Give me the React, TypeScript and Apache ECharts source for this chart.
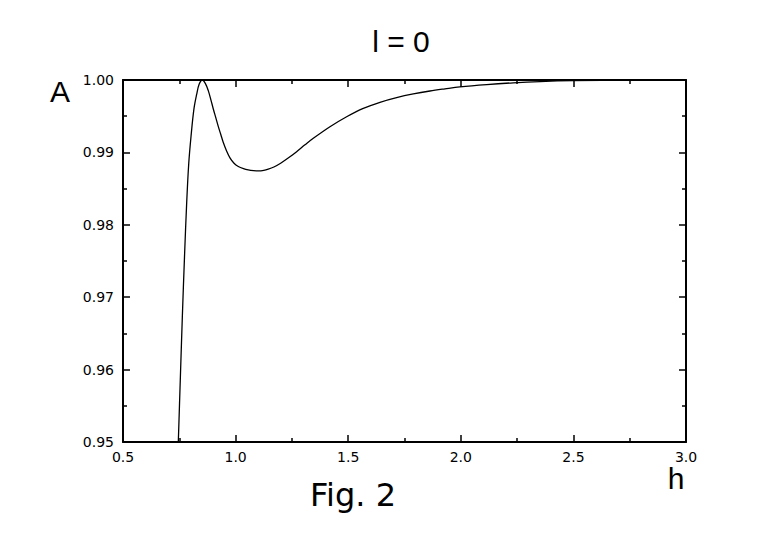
import React, { useEffect, useRef } from "react";
import * as echarts from "echarts";

const hValues: number[] = [
  0.7456, 0.7545, 0.7635, 0.773, 0.783, 0.792, 0.802, 0.815, 0.827, 0.838, 0.852,
  0.866, 0.879, 0.89, 0.901, 0.912, 0.923, 0.934, 0.945, 0.96, 0.975, 0.993,
  1.012, 1.035, 1.056, 1.08, 1.101, 1.125, 1.145, 1.17, 1.2, 1.235,
  1.271, 1.308, 1.345, 1.419, 1.493, 1.567, 1.641, 1.715, 1.789, 1.863, 1.93, 1.996, 2.115,
  2.233, 2.352, 2.5, 2.75, 3.0,
];
const aValues: number[] = [
  0.95, 0.9587, 0.9673, 0.9755, 0.9832, 0.9885, 0.9922, 0.996, 0.998, 0.9994, 1.0,
  0.9995, 0.9985, 0.9973, 0.996, 0.9948, 0.9936, 0.9925, 0.9914, 0.9902, 0.98925, 0.9885,
  0.98805, 0.98775, 0.98758, 0.98748, 0.98745, 0.98752, 0.98768, 0.98798, 0.9885, 0.98925,
  0.9901, 0.99105, 0.99195, 0.99355, 0.99493, 0.99609, 0.99692, 0.99756, 0.99807, 0.99848, 0.99878, 0.99905, 0.99937,
  0.99961, 0.99978, 0.9999, 0.99998, 1.0,
];
const xTickLabels = { min: 0.5, max: 3.0, interval: 0.5 };
const yTickLabels = { min: 0.95, max: 1.0, interval: 0.01 };
const titleText = "l = 0";
const yName = "A";
const xName = "h";
const captionText = "Fig. 2";

export default function App() {
  const ref = useRef<HTMLDivElement>(null);
  useEffect(() => {
    if (!ref.current) return;
    const chart = echarts.init(ref.current, undefined, { renderer: "svg" });
    const data = hValues.map((h, i) => [h, aValues[i]]);
    const axisLine = { show: true, onZero: false, lineStyle: { color: "#000", width: 2 } };
    const axisTick = { show: true, inside: true, length: 7, lineStyle: { color: "#000", width: 1.5 } };
    const minorTick = { show: true, splitNumber: 2, length: 4, lineStyle: { color: "#000", width: 1.5 } };
    const labelFont = { color: "#000", fontSize: 14, fontFamily: "DejaVu Sans" };
    chart.setOption({
      animation: false,
      backgroundColor: "#fff",
      grid: { left: 123, top: 80, width: 563, height: 362, containLabel: false },
      xAxis: [
        {
          type: "value",
          position: "bottom",
          min: xTickLabels.min,
          max: xTickLabels.max,
          interval: xTickLabels.interval,
          axisLine,
          axisTick,
          minorTick,
          splitLine: { show: false },
          minorSplitLine: { show: false },
          axisLabel: { ...labelFont, margin: 8, formatter: (v: number) => v.toFixed(1) },
        },
        {
          type: "value",
          position: "top",
          min: xTickLabels.min,
          max: xTickLabels.max,
          interval: xTickLabels.interval,
          axisLine,
          axisTick,
          minorTick,
          splitLine: { show: false },
          axisLabel: { show: false },
        },
      ],
      yAxis: [
        {
          type: "value",
          position: "left",
          min: yTickLabels.min,
          max: yTickLabels.max,
          interval: yTickLabels.interval,
          axisLine,
          axisTick,
          minorTick,
          splitLine: { show: false },
          minorSplitLine: { show: false },
          axisLabel: { ...labelFont, margin: 9, formatter: (v: number) => v.toFixed(2) },
        },
        {
          type: "value",
          position: "right",
          min: yTickLabels.min,
          max: yTickLabels.max,
          interval: yTickLabels.interval,
          axisLine,
          axisTick,
          minorTick,
          splitLine: { show: false },
          axisLabel: { show: false },
        },
      ],
      series: [
        {
          type: "line",
          data,
          xAxisIndex: 0,
          yAxisIndex: 0,
          showSymbol: false,
          symbol: "none",
          smooth: 0.35,
          clip: true,
          lineStyle: { color: "#000", width: 1.3 },
        },
      ],
      graphic: [
        {
          type: "text",
          x: 401,
          y: 41,
          style: { text: titleText, fill: "#000", font: "30px 'Liberation Sans'", textAlign: "center", textVerticalAlign: "middle" },
        },
        {
          type: "text",
          x: 60,
          y: 91,
          style: { text: yName, fill: "#000", font: "30px 'Liberation Sans'", textAlign: "center", textVerticalAlign: "middle" },
        },
        {
          type: "text",
          x: 676,
          y: 478,
          style: { text: xName, fill: "#000", font: "30px 'Liberation Sans'", textAlign: "center", textVerticalAlign: "middle" },
        },
        {
          type: "text",
          x: 353,
          y: 495,
          style: { text: captionText, fill: "#000", font: "32px 'DejaVu Sans'", textAlign: "center", textVerticalAlign: "middle" },
        },
      ],
    });
    return () => chart.dispose();
  }, []);
  return (
    <div
      ref={ref}
      style={{ position: "absolute", left: 0, top: 0, width: 770, height: 545, background: "#fff" }}
    />
  );
}
